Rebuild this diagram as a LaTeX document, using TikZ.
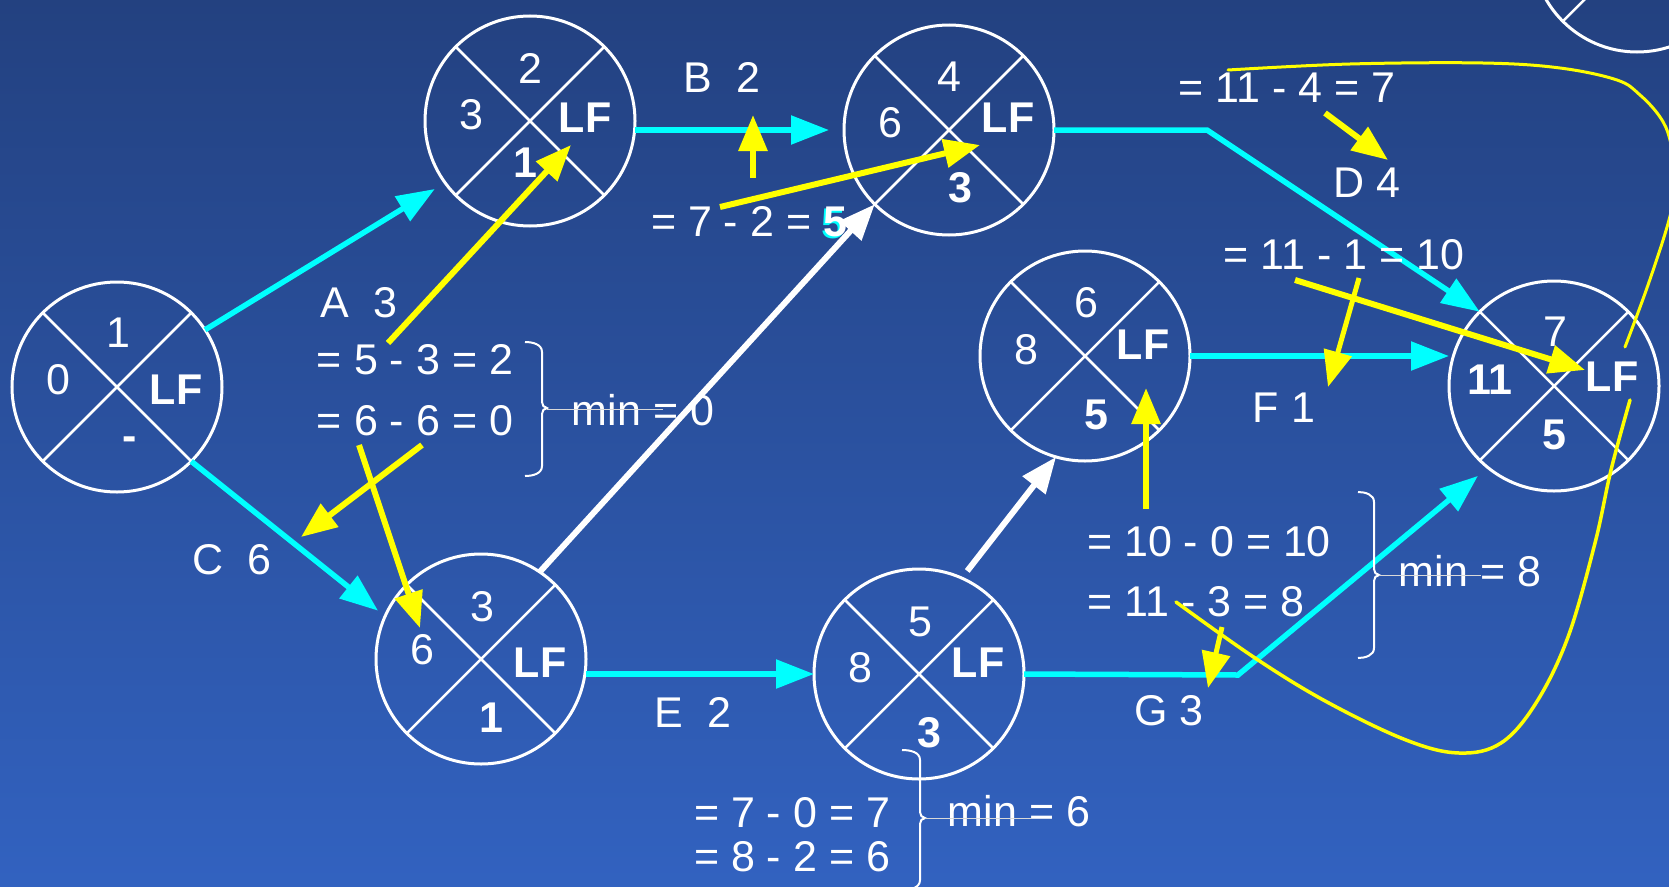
\documentclass[tikz,border=0pt]{standalone}
\usepackage{fontspec}
\setmainfont{Liberation Sans}
\usetikzlibrary{arrows.meta,calc}
\definecolor{bgtop}{RGB}{35,65,128}
\definecolor{bgbot}{RGB}{50,98,192}
\definecolor{ycol}{RGB}{255,255,0}
\definecolor{ccol}{RGB}{0,255,255}
\newcommand\evtnode[3]{%
  \node[evt] (#1) at (#2,#3) {};
  \draw[evtline] (#1.45) -- (#1.225) (#1.135) -- (#1.315);
}
\begin{document}
\begin{tikzpicture}[x=1pt,y=-1pt,
  evt/.style={circle, draw=white, line width=3pt, minimum size=210pt, inner sep=0pt, outer sep=0pt},
  evtline/.style={draw=white, line width=2.5pt},
  txt/.style={text=white, inner sep=0pt, font=\fontsize{43}{50}\selectfont},
  btxt/.style={text=white, inner sep=0pt, font=\fontsize{43}{50}\selectfont\bfseries},
  carr/.style={draw=ccol, line width=5.5pt, -{Triangle[length=38pt,width=28pt]}},
  warr/.style={draw=white, line width=6pt, -{Triangle[length=36pt,width=28pt]}},
  yarr/.style={draw=ycol, line width=6pt, -{Triangle[length=36pt,width=28pt]}},
  ycurve/.style={draw=ycol, line width=3.5pt, line cap=round},
  bracestyle/.style={draw=white, line width=2pt},
  thinline/.style={draw=white!70!gray, line width=1pt},
]
\useasboundingbox (0,0) rectangle (1669,886);
\clip (0,0) rectangle (1669,886);
\shade[top color=bgtop, bottom color=bgbot] (0,0) rectangle (1669,886);

% event nodes
\evtnode{n1}{117}{387}
\evtnode{n2}{530}{121}
\evtnode{n4}{949}{130}
\evtnode{n6}{1085}{356}
\evtnode{n7}{1554}{386}
\evtnode{n3}{481}{659}
\evtnode{n5}{919}{674}
\evtnode{n8}{1637}{-53}

% quadrant texts
\node[txt]  (n1t) at (118,333) {1};
\node[txt]  (n1l) at (58,380) {0};
\node[btxt] (n1r) at (176,390) {LF};
\node[btxt] (n1b) at (130,444) {-};

\node[txt]  (n2t) at (530,68) {2};
\node[txt]  (n2l) at (471,115) {3};
\node[btxt] (n2r) at (585,118) {LF};
\node[btxt] (n2b) at (525,163) {1};

\node[txt]  (n4t) at (949,77) {4};
\node[txt]  (n4l) at (890,123) {6};
\node[btxt] (n4r) at (1008,118) {LF};
\node[btxt] (n4b) at (960,188) {3};

\node[txt]  (n6t) at (1086,303) {6};
\node[txt]  (n6l) at (1026,350) {8};
\node[btxt] (n6r) at (1143,345) {LF};
\node[btxt] (n6b) at (1096,415) {5};

\node[txt]  (n7t) at (1555,332) {7};
\node[btxt] (n7l) at (1490,380) {11};
\node[btxt] (n7r) at (1612,377) {LF};
\node[btxt] (n7b) at (1554,435) {5};

\node[txt]  (n3t) at (482,607) {3};
\node[txt]  (n3l) at (422,650) {6};
\node[btxt] (n3r) at (540,663) {LF};
\node[btxt] (n3b) at (491,718) {1};

\node[txt]  (n5t) at (920,622) {5};
\node[txt]  (n5l) at (860,668) {8};
\node[btxt] (n5r) at (978,663) {LF};
\node[btxt] (n5b) at (929,733) {3};

% activity connectors
\draw[carr, shorten >=12pt] (n1.33) -- (n2.216);
\draw[carr, shorten >=9pt] (n1.-45) -- (n3.156);
\draw[carr, shorten >=15pt] (n2.east |- n4.center) -- (n4.west);
\coordinate (dbend) at (1207,130);
\draw[carr] (n4.east) -- (dbend) -- (n7.135);
\draw[carr] (n6.east) -- (n6.east -| n7.west);
\draw[carr] (n3.east |- n5.center) -- (n5.west);
\coordinate (gbend) at (1238,675);
\draw[carr, shorten >=13pt] (n5.east) -- (gbend) -- (n7.231);
\draw[warr] (n3.56) -- (n4.225);
\draw[warr, shorten <=9pt] (n5.66) -- (n6.254);

% labels
\node[txt] (lA) at (359,303) {A\ \ 3};
\node[txt] (lB) at (722,77) {B\ \ 2};
\node[txt] (lC) at (232,560) {C\ \ 6};
\node[txt] (lD) at (1367,183) {D 4};
\node[txt] (lE) at (693,712) {E\ \ 2};
\node[txt] (lF) at (1284,408) {F 1};
\node[txt] (lG) at (1169,711) {G 3};

% calculations
\node[txt] (c1) at (415,360) {= 5 - 3 = 2};
\node[txt] (c2) at (415,421) {= 6 - 6 = 0};
\node[txt] (c3) at (749,223) {= 7 - 2 = \rlap{\hspace{-2pt}\raisebox{-2pt}{\textcolor{ccol}{\textbf{5}}}}\textbf{5}};
\node[txt] (c4) at (1287,88) {= 11 - 4 = 7};
\node[txt] (c5) at (1344,255) {= 11 - 1 = 10};
\node[txt] (c6) at (1209,542) {= 10 - 0 = 10};
\node[txt] (c7) at (1196,602) {= 11 - 3 = 8};
\node[txt] (c8) at (792,813) {= 7 - 0 = 7};
\node[txt] (c9) at (792,857) {= 8 - 2 = 6};

% braces and minima
\draw[bracestyle] (525,342) to[out=0,in=90] (542,352) -- (542,402) to[out=-90,in=180] (547,408) to[out=180,in=90] (542,414) -- (542,466) to[out=-90,in=0] (525,476);
\coordinate (b0) at (547,409);
\node[txt] (m0) at (643,410) {min = 0};
\draw[thinline] (b0) -- (663,409);

\draw[bracestyle] (1358,492) to[out=0,in=90] (1374,502) -- (1374,569) to[out=-90,in=180] (1379,575) to[out=180,in=90] (1374,581) -- (1374,648) to[out=-90,in=0] (1358,658);
\coordinate (b8) at (1379,575);
\node[txt] (m8) at (1470,571) {min = 8};
\draw[thinline] (b8) -- (1481,575);

\draw[bracestyle] (902,750) to[out=0,in=90] (920,760) -- (920,812) to[out=-90,in=180] (925,818) to[out=180,in=90] (920,824) -- (920,880) to[out=-90,in=0] (902,890);
\coordinate (b6) at (925,818);
\node[txt] (m6) at (1019,811) {min = 6};
\draw[thinline] (b6) -- (1032,818);

% yellow arrows
\coordinate (y1s) at (388,343);  \coordinate (y1e) at (571,145);
\coordinate (y2s) at (422,445);  \coordinate (y2e) at (301,537);
\coordinate (y3s) at (359,445);  \coordinate (y3e) at (420,628);
\coordinate (y4s) at (753,178);  \coordinate (y4e) at (753,115);
\coordinate (y5s) at (720,207);  \coordinate (y5e) at (980,145);
\coordinate (y6s) at (1325,113); \coordinate (y6e) at (1388,160);
\coordinate (y7s) at (1295,280); \coordinate (y7e) at (1585,370);
\coordinate (y8s) at (1359,278); \coordinate (y8e) at (1328,387);
\coordinate (y9s) at (1146,509); \coordinate (y9e) at (1146,388);
\coordinate (y10s) at (1222,627); \coordinate (y10e) at (1208,688);
\draw[yarr] (y1s) -- (y1e);
\draw[yarr] (y2s) -- (y2e);
\draw[yarr] (y3s) -- (y3e);
\draw[yarr] (y4s) -- (y4e);
\draw[yarr] (y5s) -- (y5e);
\draw[yarr] (y6s) -- (y6e);
\draw[yarr] (y7s) -- (y7e);
\draw[yarr, line width=5pt] (y8s) -- (y8e);
\draw[yarr] (y9s) -- (y9e);
\draw[yarr, line width=5pt] (y10s) -- (y10e);

% yellow freehand loop
\draw[ycurve] plot[smooth, tension=0.6] coordinates {(1176,602) (1255,658) (1327,702) (1406,740) (1459,753) (1501,743) (1536,703) (1568,637) (1595,543) (1611,470) (1630,400)};
\draw[ycurve, line width=3pt] plot[smooth, tension=0.6] coordinates {(1625,347) (1648,285) (1669,220) (1676,180) (1670,140) (1660,117) (1640,95) (1617,80) (1560,68) (1483,63) (1350,64) (1228,70)};
\end{tikzpicture}
\end{document}
